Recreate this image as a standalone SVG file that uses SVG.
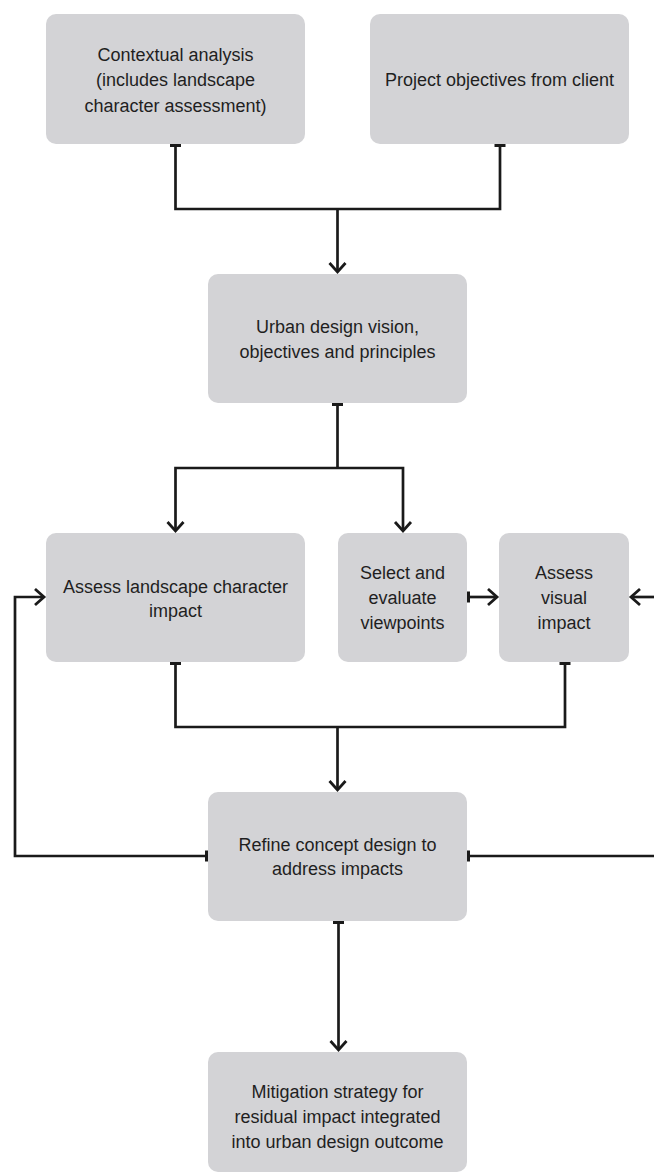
<svg xmlns="http://www.w3.org/2000/svg" width="654" height="1174" viewBox="0 0 654 1174">
<style>
.box{fill:#d3d3d6;}
.t{font-family:"Liberation Sans",Arial,sans-serif;font-size:18px;fill:#1f1f1f;text-anchor:middle;}
.c{fill:none;stroke:#1a1a1a;stroke-width:2.7;}
</style>
<defs>
<marker id="arrow" markerUnits="userSpaceOnUse" viewBox="-12 -10 14 20" markerWidth="14" markerHeight="20" refX="0" refY="0" orient="auto-start-reverse" overflow="visible">
<path d="M-9,-8 L0,0 L-9,8" fill="none" stroke="#1a1a1a" stroke-width="2.8"/>
</marker>
<marker id="tee" markerUnits="userSpaceOnUse" viewBox="-3 -6 6 12" markerWidth="6" markerHeight="12" refX="0" refY="0" orient="auto" overflow="visible">
<path d="M0,-5.5 L0,5.5" fill="none" stroke="#1a1a1a" stroke-width="4"/>
</marker>
</defs>
<rect width="654" height="1174" fill="#ffffff"/>
<g id="connectors">
<path class="c" d="M175.5,145 V209 H500 V145" marker-start="url(#tee)" marker-end="url(#tee)"/>
<path class="c" d="M337.5,209 V272" marker-end="url(#arrow)"/>
<path class="c" d="M337.5,404 V468" marker-start="url(#tee)"/>
<path class="c" d="M175.5,531 V468 H403 V531" marker-start="url(#arrow)" marker-end="url(#arrow)"/>
<path class="c" d="M468,597 H497" marker-start="url(#tee)" marker-end="url(#arrow)"/>
<path class="c" d="M660,597 H631" marker-end="url(#arrow)"/>
<path class="c" d="M175.5,663 V727 H565 V663" marker-start="url(#tee)" marker-end="url(#tee)"/>
<path class="c" d="M337.5,727 V790" marker-end="url(#arrow)"/>
<path class="c" d="M207,856 H15 V597 H44" marker-start="url(#tee)" marker-end="url(#arrow)"/>
<path class="c" d="M468,856 H660" marker-start="url(#tee)"/>
<path class="c" d="M338.5,922 V1050" marker-start="url(#tee)" marker-end="url(#arrow)"/>
</g>
<g id="contextual">
<rect class="box" x="46" y="14" width="259" height="130" rx="10"/>
<text class="t" x="175.5" y="61">Contextual analysis</text>
<text class="t" x="175.5" y="86">(includes landscape</text>
<text class="t" x="175.5" y="112">character assessment)</text>
</g>
<g id="project">
<rect class="box" x="370" y="14" width="259" height="130" rx="10"/>
<text class="t" x="499.5" y="86">Project objectives from client</text>
</g>
<g id="vision">
<rect class="box" x="208" y="274" width="259" height="129" rx="10"/>
<text class="t" x="337.5" y="333">Urban design vision,</text>
<text class="t" x="337.5" y="358">objectives and principles</text>
</g>
<g id="landscape">
<rect class="box" x="46" y="533" width="259" height="129" rx="10"/>
<text class="t" x="175.5" y="593">Assess landscape character</text>
<text class="t" x="175.5" y="617">impact</text>
</g>
<g id="viewpoints">
<rect class="box" x="338" y="533" width="129" height="129" rx="10"/>
<text class="t" x="402.5" y="579">Select and</text>
<text class="t" x="402.5" y="604">evaluate</text>
<text class="t" x="402.5" y="629">viewpoints</text>
</g>
<g id="visual">
<rect class="box" x="499" y="533" width="130" height="129" rx="10"/>
<text class="t" x="564" y="579">Assess</text>
<text class="t" x="564" y="604">visual</text>
<text class="t" x="564" y="629">impact</text>
</g>
<g id="refine">
<rect class="box" x="208" y="792" width="259" height="129" rx="10"/>
<text class="t" x="337.5" y="851">Refine concept design to</text>
<text class="t" x="337.5" y="875">address impacts</text>
</g>
<g id="mitigation">
<rect class="box" x="208" y="1052" width="259" height="120" rx="10"/>
<text class="t" x="337.5" y="1098">Mitigation strategy for</text>
<text class="t" x="337.5" y="1123">residual impact integrated</text>
<text class="t" x="337.5" y="1148">into urban design outcome</text>
</g>
</svg>
